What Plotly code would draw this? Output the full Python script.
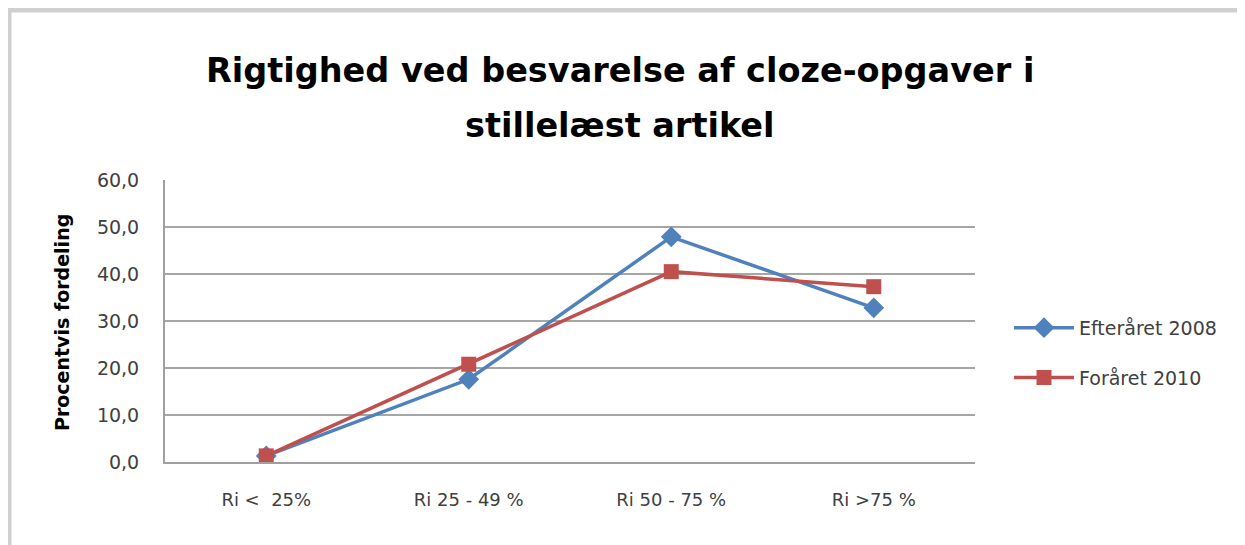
import plotly.graph_objects as go

categories = ["Ri <  25%", "Ri 25 - 49 %", "Ri 50 - 75 %", "Ri >75 %"]
efteraaret_2008 = [1.3, 17.6, 47.9, 32.8]
foraaret_2010 = [1.3, 20.8, 40.5, 37.3]
y_ticks = [0, 10, 20, 30, 40, 50, 60]
y_tick_labels = ["0,0", "10,0", "20,0", "30,0", "40,0", "50,0", "60,0"]
title_lines = ["Rigtighed ved besvarelse af cloze-opgaver i", "stillelæst artikel"]
y_title = "Procentvis fordeling"

FONT = "DejaVu Sans"
W, H = 1237, 537
L, T, R, B = 157, 172, 270, 83
PW, PH = W - L - R, H - T - B


def px(x):
    return (x - L) / PW


def py(y):
    return (H - B - y) / PH


fig = go.Figure()
fig.add_trace(go.Scatter(
    x=categories, y=efteraaret_2008, name="Efteråret 2008",
    mode="lines+markers", legendgroup="a",
    line=dict(color="#4F81BD", width=3.5),
    marker=dict(symbol="diamond", size=16, color="#4F81BD"),
))
fig.add_trace(go.Scatter(
    x=categories, y=foraaret_2010, name="Foråret 2010",
    mode="lines+markers", legendgroup="b",
    line=dict(color="#C0504D", width=3.5),
    marker=dict(symbol="square", size=15, color="#C0504D"),
))

fig.update_layout(
    width=W, height=H,
    margin=dict(l=L, r=R, t=T, b=B, autoexpand=False),
    paper_bgcolor="white", plot_bgcolor="white",
    font=dict(family=FONT, color="#404040"),
    showlegend=True,
    legend=dict(
        x=px(1001), xanchor="left", y=0.387, yanchor="middle",
        font=dict(family=FONT, size=19, color="#404040"),
        tracegroupgap=22, itemwidth=60,
    ),
    xaxis=dict(
        type="category", range=[-0.5, 3.5], automargin=False,
        showgrid=False, showline=True, linecolor="#A0A0A0", linewidth=2,
        ticks="", tickfont=dict(family=FONT, size=18, color="#404040"),
        ticklabelstandoff=20,
    ),
    yaxis=dict(
        range=[0, 60], tickvals=y_ticks, ticktext=y_tick_labels, automargin=False,
        showgrid=True, gridcolor="#A6A6A6", gridwidth=2,
        showline=True, linecolor="#A0A0A0", linewidth=2,
        ticks="", tickfont=dict(family=FONT, size=19, color="#404040"),
        ticklabelstandoff=20,
        zeroline=False,
    ),
)

for txt, ypx in zip(title_lines, [62, 117]):
    fig.add_annotation(
        text=txt, xref="paper", yref="paper",
        x=px(612), y=py(ypx),
        xanchor="center", yanchor="middle", showarrow=False,
        font=dict(family=FONT, size=33.5, color="black", weight="bold"),
    )

fig.add_annotation(
    text=y_title, xref="paper", yref="paper",
    x=px(54), y=py(315), textangle=-90,
    xanchor="center", yanchor="middle", showarrow=False,
    font=dict(family=FONT, size=19, color="black", weight="bold"),
)

fig.add_shape(type="rect", xref="paper", yref="paper",
              x0=px(1), x1=px(W + 40),
              y0=py(H + 40), y1=py(2),
              line=dict(color="#D0D0D0", width=5), layer="below")

fig.write_html("out.html")
